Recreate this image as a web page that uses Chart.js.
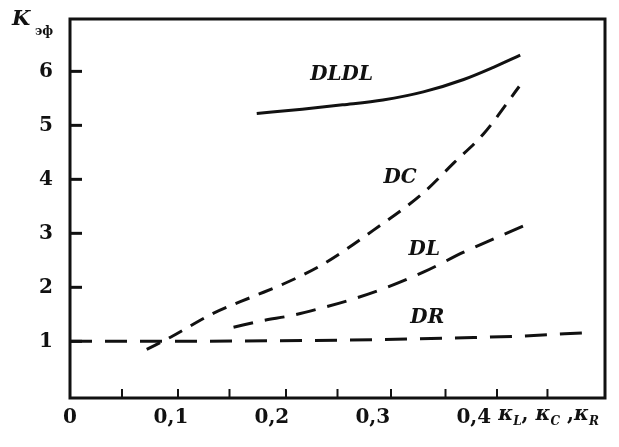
<!DOCTYPE html>
<html><head><meta charset="utf-8">
<script src="https://cdn.jsdelivr.net/npm/chart.js@4/dist/chart.umd.min.js"></script>
<style>html,body{margin:0;padding:0;background:#fff}#w{width:619px;height:447px}</style>
</head><body><div id="w"><canvas id="c" width="619" height="447"></canvas></div>
<script>
// ---- data ----
const xTicks = [0, 0.1, 0.2, 0.3, 0.4];
const yTicks = [1, 2, 3, 4, 5, 6];
const minorXTicks = [0.0515, 0.107, 0.158, 0.214, 0.265, 0.318, 0.372, 0.423, 0.473];

const dldlX = [0.185, 0.23, 0.27, 0.31, 0.35, 0.39, 0.42, 0.446];
const dldlY = [5.22, 5.30, 5.38, 5.47, 5.62, 5.85, 6.08, 6.30];

const dcX = [0.076, 0.10, 0.14, 0.18, 0.21, 0.25, 0.30, 0.35, 0.38, 0.41, 0.445];
const dcY = [0.85, 1.08, 1.50, 1.82, 2.05, 2.42, 3.05, 3.75, 4.30, 4.85, 5.72];

const dlX = [0.162, 0.19, 0.22, 0.25, 0.28, 0.31, 0.35, 0.39, 0.42, 0.452];
const dlY = [1.26, 1.38, 1.48, 1.62, 1.78, 1.97, 2.28, 2.65, 2.90, 3.16];

const drX = [0.0, 0.1, 0.2, 0.3, 0.4, 0.45, 0.511];
const drY = [1.0, 1.0, 1.01, 1.03, 1.07, 1.10, 1.16];

const curveNames = ['DLDL', 'DC', 'DL', 'DR'];
const nameX = [0.269, 0.327, 0.351, 0.354];
const nameY = [5.93, 4.02, 2.69, 1.43];

// ---- build ----
const pts = (xs, ys) => xs.map((x, i) => ({x, y: ys[i]}));
const INK = '#111';
const SERIF = '"DejaVu Serif", "Liberation Serif", serif';

const decor = {
  id: 'decor',
  afterDraw(chart) {
    const {ctx, chartArea: a, scales: {x, y}} = chart;
    ctx.save();
    ctx.strokeStyle = INK;
    ctx.fillStyle = INK;
    ctx.lineWidth = 3;
    ctx.strokeRect(a.left, a.top, a.right - a.left, a.bottom - a.top);
    ctx.lineWidth = 3;
    yTicks.forEach(v => {
      const py = y.getPixelForValue(v);
      ctx.beginPath(); ctx.moveTo(a.left, py); ctx.lineTo(a.left + 12, py); ctx.stroke();
    });
    ctx.lineWidth = 2;
    minorXTicks.forEach(v => {
      const px = x.getPixelForValue(v);
      ctx.beginPath(); ctx.moveTo(px, a.bottom - 1); ctx.lineTo(px, a.bottom - 9); ctx.stroke();
    });
    ctx.font = 'italic bold 20px ' + SERIF;
    ctx.textAlign = 'center'; ctx.textBaseline = 'middle';
    curveNames.forEach((n, i) => ctx.fillText(n, x.getPixelForValue(nameX[i]), y.getPixelForValue(nameY[i])));
    ctx.textAlign = 'left'; ctx.textBaseline = 'alphabetic';
    ctx.font = 'italic bold 21px ' + SERIF;
    ctx.fillText('K', 12, 25);
    ctx.font = 'bold 12px ' + SERIF;
    ctx.fillText('эф', 35, 35);
    ctx.font = 'bold 20px ' + SERIF;
    const lx = x.getPixelForValue(0.4) + ctx.measureText('0,4').width / 2 + 7;
    const by = 420;
    let cx = lx;
    const parts = [['κ', 'm'], ['L', 's'], [', ', 'n'], ['κ', 'm'], ['C', 's'], [' ,', 'n'], ['κ', 'm'], ['R', 's']];
    parts.forEach(([t, k]) => {
      if (k === 'm') ctx.font = 'italic bold 20px ' + SERIF;
      else if (k === 's') ctx.font = 'italic bold 12px ' + SERIF;
      else ctx.font = 'bold 20px ' + SERIF;
      ctx.fillText(t, cx, k === 's' ? by + 5 : by);
      cx += ctx.measureText(t).width;
    });
    ctx.restore();
  }
};

const solid = (data) => ({data, borderColor: INK, borderWidth: 3, pointRadius: 0, fill: false, cubicInterpolationMode: 'monotone'});
const dashed = (data, d) => Object.assign(solid(data), {borderDash: d, borderCapStyle: 'butt'});
const noPad = s => { s.paddingTop = 0; s.paddingBottom = 0; s.paddingLeft = 0; s.paddingRight = 0; };

new Chart(document.getElementById('c'), {
  type: 'line',
  data: {
    datasets: [
      Object.assign(solid(pts(dldlX, dldlY)), {label: curveNames[0]}),
      Object.assign(dashed(pts(dcX, dcY), [15, 10]), {label: curveNames[1]}),
      Object.assign(dashed(pts(dlX, dlY), [20, 12]), {label: curveNames[2]}),
      Object.assign(dashed(pts(drX, drY), [22, 13]), {label: curveNames[3]})
    ]
  },
  options: {
    responsive: false,
    animation: false,
    devicePixelRatio: 1,
    layout: {padding: {top: 19, right: 14, left: 0, bottom: 0}},
    plugins: {legend: {display: false}, tooltip: {enabled: false}},
    scales: {
      x: {
        type: 'linear', min: 0, max: 0.53,
        afterBuildTicks: s => { s.ticks = xTicks.map(v => ({value: v})); },
        afterFit: s => { s.height = 49; noPad(s); },
        grid: {display: false, drawTicks: false},
        border: {display: false},
        ticks: {
          color: INK, padding: 8, maxRotation: 0, autoSkip: false,
          font: {family: SERIF, size: 20, weight: 'bold'},
          callback: v => v === 0 ? '0' : v.toFixed(1).replace('.', ',')
        }
      },
      y: {
        type: 'linear', min: -0.05, max: 6.97,
        afterBuildTicks: s => { s.ticks = yTicks.map(v => ({value: v})); },
        afterFit: s => { s.width = 70; noPad(s); },
        grid: {display: false, drawTicks: false},
        border: {display: false},
        ticks: {
          color: INK, padding: 17,
          font: {family: SERIF, size: 20, weight: 'bold'},
          callback: v => String(v)
        }
      }
    }
  },
  plugins: [decor]
});
</script>
</body></html>
